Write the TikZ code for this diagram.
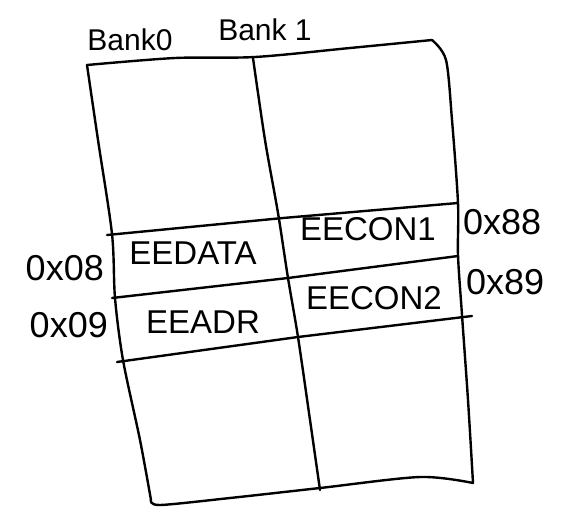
\documentclass[tikz,border=0pt]{standalone}
\usepackage{fontspec}
\setmainfont{Liberation Sans}
\begin{document}
\begin{tikzpicture}[x=1pt,y=-1pt,
  gridline/.style={line width=2.4pt,line cap=round,line join=round},
  celltext/.style={font=\fontsize{33}{36}\selectfont,inner sep=0pt},
  addr/.style={font=\fontsize{36}{40}\selectfont,inner sep=0pt},
  bank/.style={font=\fontsize{30}{34}\selectfont,inner sep=0pt}]
\useasboundingbox (0,0) rectangle (581,517);
% outer frame
\draw[gridline] plot[smooth,tension=0.5] coordinates {(87,65) (175,58) (255,57) (350,48) (432,40)};
\draw[gridline] plot[smooth,tension=0.5] coordinates {(432,40) (446,60) (452,120) (458,203) (458,255) (462,315) (468,400) (473,483)};
\draw[gridline] plot[smooth,tension=0.5] coordinates {(473,483) (420,477) (320,488) (230,498) (160,505) (151,500)};
\draw[gridline] plot[smooth,tension=0.5] coordinates {(151,500) (140,440) (123,360) (115,298) (112,234) (98,140) (87,65)};
% middle vertical
\draw[gridline] plot[smooth,tension=0.5] coordinates {(253,58) (265,140) (278,213) (288,278) (298,337) (310,420) (320,490)};
% horizontal rows
\draw[gridline] (107,235) -- (283,218) -- (458,203);
\draw[gridline] (112,298) -- (288,278) -- (458,256);
\draw[gridline] (117,362) -- (298,337) -- (472,316);
% cell labels
\node[celltext] (eedata) at (193,253) {EEDATA};
\node[celltext] (eecon1) at (368,229) {EECON1};
\node[celltext] (eeadr) at (203,322) {EEADR};
\node[celltext] (eecon2) at (374,298) {EECON2};
% addresses
\node[addr,anchor=east] (a08) at (104,268) {0x08};
\node[addr,anchor=east] (a09) at (108,325) {0x09};
\node[addr,anchor=west] (a88) at (463,222) {0x88};
\node[addr,anchor=west] (a89) at (466,282) {0x89};
% bank headers
\node[bank] (bank0) at (130,40) {Bank0};
\node[bank] (bank1) at (265,30) {Bank 1};
\end{tikzpicture}
\end{document}
